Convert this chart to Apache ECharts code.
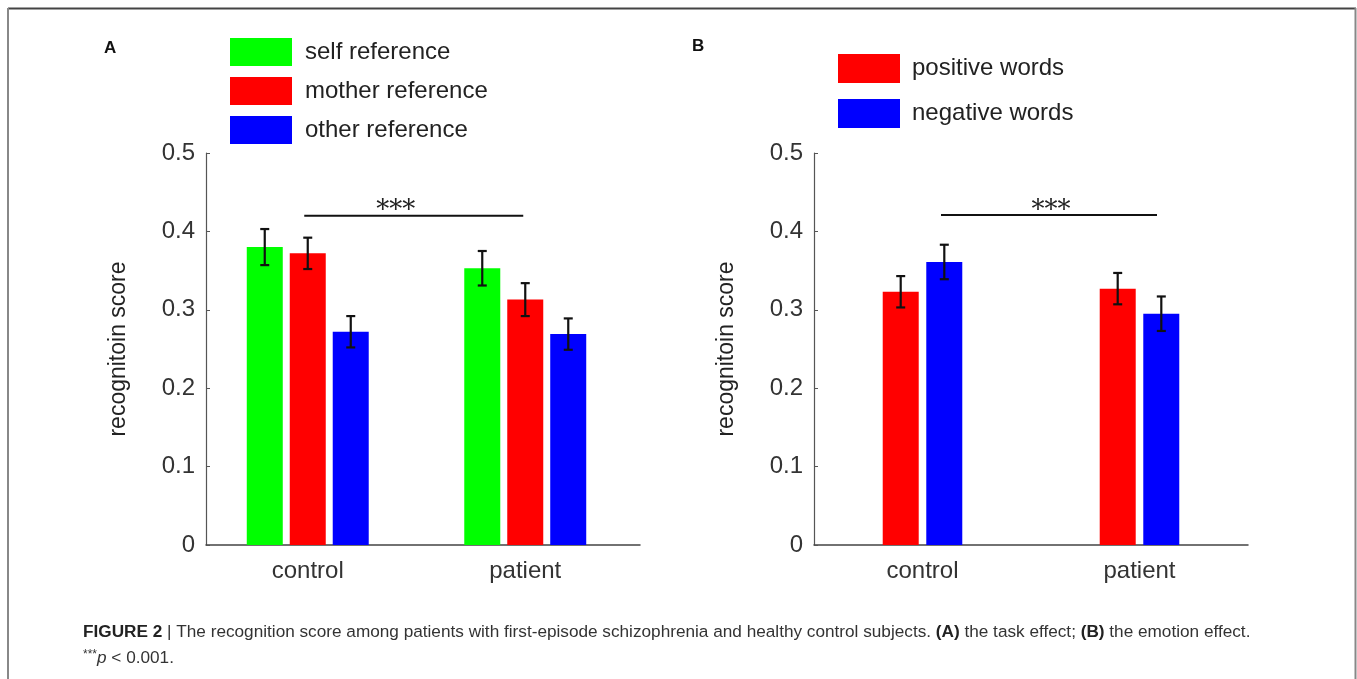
<!DOCTYPE html>
<html>
<head>
<meta charset="utf-8">
<script src="https://cdn.jsdelivr.net/npm/echarts@6/dist/echarts.min.js"></script>
<style>
html,body{margin:0;padding:0;background:#fff;}
#chart{width:1357px;height:679px;}
</style>
</head>
<body>
<div id="chart"></div>
<script>
// ---- data ----
const categories = ['control', 'patient'];
// Panel A: task effect
const selfRef = [0.380, 0.353];
const selfErr = [0.023, 0.022];
const motherRef = [0.372, 0.313];
const motherErr = [0.020, 0.021];
const otherRef = [0.272, 0.269];
const otherErr = [0.020, 0.020];
// Panel B: emotion effect
const positiveWords = [0.323, 0.327];
const positiveErr = [0.020, 0.020];
const negativeWords = [0.361, 0.295];
const negativeErr = [0.022, 0.022];
// significance bracket level
const sigA = [0.42];
const sigB = [0.421];
const yTicksMax = 0.5;

const FONT = '"Liberation Sans", Arial, Helvetica, sans-serif';
const GREEN = '#00ff00', RED = '#ff0000', BLUE = '#0000ff';
const BW = 36;

function errData(m, e) { return m.map((v, i) => [i, v - e[i], v + e[i]]); }

function errRender(offset) {
  return function (params, api) {
    const lo = api.coord([api.value(0), api.value(1)]);
    const hi = api.coord([api.value(0), api.value(2)]);
    const x = lo[0] + offset;
    const cap = 4.5;
    const st = { stroke: '#111', lineWidth: 2.2 };
    return {
      type: 'group',
      children: [
        { type: 'line', shape: { x1: x, y1: lo[1], x2: x, y2: hi[1] }, style: st },
        { type: 'line', shape: { x1: x - cap, y1: hi[1], x2: x + cap, y2: hi[1] }, style: st },
        { type: 'line', shape: { x1: x - cap, y1: lo[1], x2: x + cap, y2: lo[1] }, style: st }
      ]
    };
  };
}

function sigRender(off0, off1, starOff) {
  return function (params, api) {
    const p0 = api.coord([0, api.value(0)]);
    const p1 = api.coord([1, api.value(0)]);
    const x0 = p0[0] + off0, x1 = p1[0] + off1;
    return {
      type: 'group',
      children: [
        { type: 'line', shape: { x1: x0, y1: p0[1], x2: x1, y2: p0[1] }, style: { stroke: '#111', lineWidth: 2 } },
        { type: 'text', style: { text: '***', x: (x0 + x1) / 2 + starOff, y: p0[1] + 9, align: 'center', verticalAlign: 'bottom', font: '26px "DejaVu Serif", serif', fill: '#222' } }
      ]
    };
  };
}

const yAxisCommon = {
  type: 'value', min: 0, max: yTicksMax, interval: 0.1,
  axisLine: { show: true, lineStyle: { color: '#555', width: 1.2 } },
  axisTick: { show: true, inside: true, length: 4, lineStyle: { color: '#555' } },
  splitLine: { show: false },
  axisLabel: { fontFamily: FONT, fontSize: 24, color: '#333', margin: 11, formatter: v => (v === 0 ? '0' : v.toFixed(1)) },
  name: 'recognitoin score', nameLocation: 'middle', nameGap: 76, nameRotate: 90,
  nameTextStyle: { fontFamily: FONT, fontSize: 23, color: '#222' }
};

const hiddenY = { type: 'value', min: 0, max: yTicksMax, interval: 0.1, show: false };

const option = {
  animation: false,
  backgroundColor: '#fff',
  grid: [
    { left: 206, top: 153, width: 434, height: 392 },  // A axes
    { left: 199, top: 153, width: 435, height: 392 },  // A bars
    { left: 814, top: 153, width: 434, height: 392 }   // B
  ],
  xAxis: [
    { gridIndex: 0, type: 'value', min: 0, max: 1, axisLine: { show: true, onZero: false, lineStyle: { color: '#444', width: 1.5 } }, axisTick: { show: false }, axisLabel: { show: false }, splitLine: { show: false } },
    { gridIndex: 1, type: 'category', data: categories, axisLine: { show: false }, axisTick: { show: false },
      axisLabel: { fontFamily: FONT, fontSize: 24, color: '#333', margin: 14 } },
    { gridIndex: 2, type: 'category', data: categories, axisLine: { show: true, lineStyle: { color: '#444', width: 1.5 } }, axisTick: { show: false },
      axisLabel: { fontFamily: FONT, fontSize: 24, color: '#333', margin: 14 } }
  ],
  yAxis: [
    Object.assign({ gridIndex: 0 }, yAxisCommon),
    Object.assign({ gridIndex: 1 }, hiddenY),
    Object.assign({ gridIndex: 2 }, yAxisCommon)
  ],
  legend: [
    { data: ['self reference', 'mother reference', 'other reference'], orient: 'vertical', left: 230, top: 38,
      itemWidth: 62, itemHeight: 28, itemGap: 11, icon: 'rect', selectedMode: false, padding: 0,
      textStyle: { fontFamily: FONT, fontSize: 24, color: '#222', padding: [0, 0, 0, 8] } },
    { data: ['positive words', 'negative words'], orient: 'vertical', left: 838, top: 54,
      itemWidth: 62, itemHeight: 29, itemGap: 16, icon: 'rect', selectedMode: false, padding: 0,
      textStyle: { fontFamily: FONT, fontSize: 24, color: '#222', padding: [0, 0, 0, 7] } }
  ],
  series: [
    { name: 'self reference', type: 'bar', xAxisIndex: 1, yAxisIndex: 1, data: selfRef, barWidth: BW, barGap: '19.4%', itemStyle: { color: GREEN } },
    { name: 'mother reference', type: 'bar', xAxisIndex: 1, yAxisIndex: 1, data: motherRef, barWidth: BW, barGap: '19.4%', itemStyle: { color: RED } },
    { name: 'other reference', type: 'bar', xAxisIndex: 1, yAxisIndex: 1, data: otherRef, barWidth: BW, barGap: '19.4%', itemStyle: { color: BLUE } },
    { type: 'custom', xAxisIndex: 1, yAxisIndex: 1, data: errData(selfRef, selfErr), encode: { x: 0, y: [1, 2] }, renderItem: errRender(-43), z: 5 },
    { type: 'custom', xAxisIndex: 1, yAxisIndex: 1, data: errData(motherRef, motherErr), encode: { x: 0, y: [1, 2] }, renderItem: errRender(0), z: 5 },
    { type: 'custom', xAxisIndex: 1, yAxisIndex: 1, data: errData(otherRef, otherErr), encode: { x: 0, y: [1, 2] }, renderItem: errRender(43), z: 5 },
    { type: 'custom', xAxisIndex: 1, yAxisIndex: 1, data: [sigA], encode: { y: 0 }, renderItem: sigRender(-3.5, -2, -18), z: 5 },

    { name: 'positive words', type: 'bar', xAxisIndex: 2, yAxisIndex: 2, data: positiveWords, barWidth: BW, barGap: '21%', itemStyle: { color: RED } },
    { name: 'negative words', type: 'bar', xAxisIndex: 2, yAxisIndex: 2, data: negativeWords, barWidth: BW, barGap: '21%', itemStyle: { color: BLUE } },
    { type: 'custom', xAxisIndex: 2, yAxisIndex: 2, data: errData(positiveWords, positiveErr), encode: { x: 0, y: [1, 2] }, renderItem: errRender(-21.8), z: 5 },
    { type: 'custom', xAxisIndex: 2, yAxisIndex: 2, data: errData(negativeWords, negativeErr), encode: { x: 0, y: [1, 2] }, renderItem: errRender(21.8), z: 5 },
    { type: 'custom', xAxisIndex: 2, yAxisIndex: 2, data: [sigB], encode: { y: 0 }, renderItem: sigRender(18.5, 17.5, 2), z: 5 }
  ],
  graphic: [
    { type: 'line', shape: { x1: 8, y1: 8.5, x2: 1356, y2: 8.5 }, style: { stroke: '#444', lineWidth: 2 } },
    { type: 'line', shape: { x1: 8, y1: 8, x2: 8, y2: 679 }, style: { stroke: '#888', lineWidth: 2 } },
    { type: 'line', shape: { x1: 1355.5, y1: 8, x2: 1355.5, y2: 679 }, style: { stroke: '#888', lineWidth: 2 } },
    { type: 'text', left: 104, top: 40, style: { text: 'A', font: 'bold 17px ' + FONT, fill: '#111' } },
    { type: 'text', left: 692, top: 38, style: { text: 'B', font: 'bold 17px ' + FONT, fill: '#111' } },
    { type: 'text', left: 83, top: 624, style: {
        text: '{b|FIGURE 2} | The recognition score among patients with first-episode schizophrenia and healthy control subjects. {b|(A)} the task effect; {b|(B)} the emotion effect.',
        font: '17.2px ' + FONT, fill: '#333',
        rich: { b: { fontWeight: 'bold', fontFamily: FONT, fontSize: 17.2, fill: '#222' } } } },
    { type: 'text', left: 83, top: 649, style: {
        text: '{s|***}{i|p} < 0.001.',
        font: '17.2px ' + FONT, fill: '#333',
        rich: { s: { fontSize: 12, fontFamily: FONT, verticalAlign: 'top', padding: [0, 0, 6, 0] }, i: { fontStyle: 'italic', fontFamily: FONT, fontSize: 17.2 } } } }
  ]
};

const chart = echarts.init(document.getElementById('chart'), null, { renderer: 'canvas' });
chart.setOption(option);
</script>
</body>
</html>
